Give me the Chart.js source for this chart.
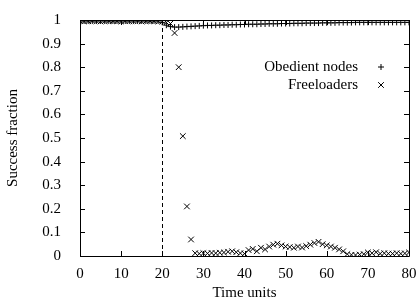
<!DOCTYPE html>
<html>
<head>
<meta charset="utf-8">
<script src="https://cdn.jsdelivr.net/npm/chart.js@4.4.0/dist/chart.umd.min.js"></script>
<style>
html, body { margin: 0; padding: 0; background: #fff; }
</style>
</head>
<body>
<canvas id="myChart" width="420" height="302"></canvas>
<script>
// time axis, one sample per time unit
var timeUnits = [];
for (var t = 0; t <= 80; t++) timeUnits.push(t);

var obedient = [
  0.996, 0.996, 0.996, 0.996, 0.996, 0.996, 0.996, 0.996, 0.996, 0.996,
  0.996, 0.996, 0.996, 0.996, 0.996, 0.996, 0.996, 0.996, 0.996, 0.996,
  0.990, 0.978, 0.972, 0.970, 0.970, 0.971, 0.972, 0.973, 0.974, 0.975,
  0.976, 0.977, 0.977, 0.978, 0.978, 0.979, 0.979, 0.980, 0.980, 0.981,
  0.981, 0.982, 0.982, 0.982, 0.983, 0.983, 0.984, 0.984, 0.984, 0.985,
  0.985, 0.985, 0.986, 0.986, 0.986, 0.987, 0.987, 0.987, 0.987, 0.988,
  0.988, 0.988, 0.988, 0.989, 0.989, 0.989, 0.989, 0.990, 0.990, 0.990,
  0.990, 0.990, 0.990, 0.990, 0.990, 0.990, 0.990, 0.990, 0.990, 0.990,
  0.990
];

var freeloaders = [
  0.996, 0.994, 0.995, 0.996, 0.995, 0.994, 0.995, 0.996, 0.995, 0.995,
  0.994, 0.996, 0.995, 0.995, 0.996, 0.994, 0.995, 0.996, 0.995, 0.994,
  0.993, 0.990, 0.985, 0.945, 0.800, 0.508, 0.210, 0.070, 0.012,
  0.010, 0.012, 0.011, 0.013, 0.012, 0.014, 0.015, 0.018, 0.020, 0.016, 0.012, 0.010,
  0.025, 0.030, 0.020, 0.035, 0.028, 0.040,
  0.048, 0.052, 0.045, 0.040, 0.038, 0.035, 0.040, 0.036, 0.042, 0.048,
  0.055, 0.060, 0.050, 0.045, 0.040, 0.035, 0.028, 0.020,
  0.008, 0.005, 0.004, 0.006, 0.008,
  0.015, 0.012, 0.016, 0.010, 0.012, 0.010, 0.010, 0.012, 0.010, 0.011, 0.015
];

var seriesNames = ['Obedient nodes', 'Freeloaders'];
var xTicks = [0, 10, 20, 30, 40, 50, 60, 70, 80];
var yTicks = [0, 0.1, 0.2, 0.3, 0.4, 0.5, 0.6, 0.7, 0.8, 0.9, 1];
var switchTime = 20;

var serif = '"Liberation Serif", "Times New Roman", serif';

function toPoints(values) {
  return timeUnits.map(function (t, i) { return { x: t, y: values[i] }; });
}

// gnuplot-ish frame: box, inward ticks, dashed marker, key
var framePlugin = {
  id: 'frame',
  beforeDatasetsDraw: function (chart) {
    var ctx = chart.ctx, a = chart.chartArea;
    var xs = chart.scales.x, ys = chart.scales.y;
    ctx.save();
    ctx.strokeStyle = '#000';
    ctx.lineWidth = 1;
    ctx.beginPath();
    ctx.rect(Math.round(a.left) + 0.5, Math.round(a.top) + 0.5,
      Math.round(a.right - a.left), Math.round(a.bottom - a.top));
    xTicks.forEach(function (v) {
      var px = Math.round(xs.getPixelForValue(v)) + 0.5;
      ctx.moveTo(px, a.bottom); ctx.lineTo(px, a.bottom - 5);
      ctx.moveTo(px, a.top); ctx.lineTo(px, a.top + 5);
    });
    yTicks.forEach(function (v) {
      var py = Math.round(ys.getPixelForValue(v)) + 0.5;
      ctx.moveTo(a.left, py); ctx.lineTo(a.left + 5, py);
      ctx.moveTo(a.right, py); ctx.lineTo(a.right - 5, py);
    });
    ctx.stroke();

    var sx = Math.round(xs.getPixelForValue(switchTime)) + 0.5;
    ctx.setLineDash([4, 3]);
    ctx.beginPath();
    ctx.moveTo(sx, a.bottom);
    ctx.lineTo(sx, a.top);
    ctx.stroke();
    ctx.restore();
  },
  afterDatasetsDraw: function (chart) {
    var ctx = chart.ctx;
    ctx.save();
    ctx.font = '15px ' + serif;
    ctx.fillStyle = '#000';
    ctx.textAlign = 'right';
    ctx.textBaseline = 'middle';
    chart.data.datasets.forEach(function (ds, i) {
      var y = 67 + i * 18;
      ctx.fillText(ds.label, 358, y);
      Chart.helpers.drawPoint(ctx, {
        pointStyle: ds.pointStyle, radius: ds.pointRadius, borderWidth: 1, rotation: 0
      }, 381, y);
    });
    ctx.restore();
  }
};

var ctx = document.getElementById('myChart').getContext('2d');
var myChart = new Chart(ctx, {
  type: 'scatter',
  data: {
    datasets: [{
      label: seriesNames[0],
      data: toPoints(obedient),
      pointStyle: 'cross',
      pointRadius: 3,
      pointBorderWidth: 1,
      borderColor: '#000',
      backgroundColor: '#000'
    }, {
      label: seriesNames[1],
      data: toPoints(freeloaders),
      pointStyle: 'crossRot',
      pointRadius: 4,
      pointBorderWidth: 1,
      borderColor: '#000',
      backgroundColor: '#000'
    }]
  },
  options: {
    responsive: false,
    animation: false,
    layout: { padding: { left: 0, right: 11, top: 16, bottom: 0 } },
    plugins: {
      legend: { display: false },
      tooltip: { enabled: false }
    },
    scales: {
      x: {
        type: 'linear',
        min: 0, max: 80,
        afterFit: function (s) { s.height = 46; },
        afterBuildTicks: function (s) { s.ticks = xTicks.map(function (v) { return { value: v }; }); },
        grid: { display: false },
        border: { display: false },
        ticks: { color: '#000', padding: 1, maxRotation: 0, font: { family: serif, size: 15 } },
        title: {
          display: true, text: 'Time units', color: '#000',
          padding: { top: 0, bottom: 0 },
          font: { family: serif, size: 15 }
        }
      },
      y: {
        type: 'linear',
        min: 0, max: 1,
        afterFit: function (s) { s.width = 80; },
        afterBuildTicks: function (s) { s.ticks = yTicks.map(function (v) { return { value: v }; }); },
        grid: { display: false },
        border: { display: false },
        ticks: {
          color: '#000', padding: 11,
          font: { family: serif, size: 15 },
          callback: function (v) { return (v === 0 || v === 1) ? String(v) : v.toFixed(1); }
        },
        title: {
          display: true, text: 'Success fraction', color: '#000',
          padding: { top: 4, bottom: 0 },
          font: { family: serif, size: 15 }
        }
      }
    }
  },
  plugins: [framePlugin]
});
</script>
</body>
</html>
